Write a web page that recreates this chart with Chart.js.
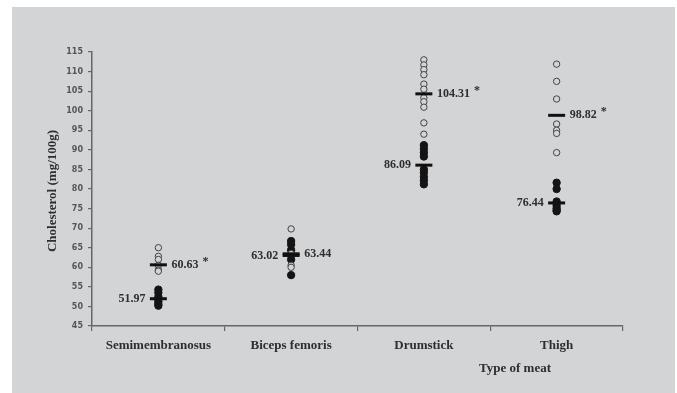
<!DOCTYPE html>
<html>
<head>
<meta charset="utf-8">
<script src="https://cdn.jsdelivr.net/npm/chart.js@4"></script>
<style>
    body { margin: 0; background: #ffffff; }
    #wrap { width: 677px; height: 393px; }
</style>
</head>
<body>
<div id="wrap"><canvas id="cholChart" width="677" height="393"></canvas></div>
<script>
// Data
const categories = ['Semimembranosus', 'Biceps femoris', 'Drumstick', 'Thigh'];
const openValues = [
    [65.0, 62.8, 62.0, 60.5, 59.3, 59.0],
    [69.8, 63.5, 60.5, 60.0],
    [113.0, 111.7, 110.5, 109.2, 106.8, 105.5, 103.3, 102.3, 100.9, 96.9, 94.0],
    [111.9, 107.5, 103.0, 96.6, 95.0, 94.2, 89.3]
];
const filledValues = [
    [54.3, 53.5, 52.5, 51.8, 51.2, 50.6, 50.2],
    [66.7, 65.8, 64.4, 62.0, 58.0],
    [91.2, 90.3, 89.3, 88.3, 85.0, 84.2, 83.1, 82.2, 81.2],
    [81.6, 80.0, 76.8, 75.8, 75.1, 74.6, 74.3]
];
const meanFilled = [51.97, 63.02, 86.09, 76.44];
const meanOpen = [60.63, 63.44, 104.31, 98.82];
const significant = [true, false, true, true];
const yMin = 45, yMax = 115, yStep = 5;

const BG = '#d3d4d6';
const AXIS = '#666666';
const TEXT = '#2e2e2e';

function toPoints(groups) {
    const pts = [];
    groups.forEach((vals, i) => vals.forEach(v => pts.push({ x: categories[i], y: v })));
    return pts;
}

// Background panel + custom texts
const decorPlugin = {
    id: 'decor',
    beforeDraw(chart) {
        const ctx = chart.ctx;
        ctx.save();
        ctx.fillStyle = BG;
        ctx.fillRect(12, 7, 663, 386);
        ctx.restore();
    },
    afterDatasetsDraw(chart) {
        const ctx = chart.ctx;
        const xs = chart.scales.x, ys = chart.scales.y;
        ctx.save();
        ctx.fillStyle = TEXT;
        ctx.font = 'bold 12px "Liberation Serif"';
        ctx.textBaseline = 'middle';
        categories.forEach((c, i) => {
            const cx = xs.getPixelForValue(i);
            // filled-group mean on the left
            ctx.textAlign = 'right';
            ctx.fillText(meanFilled[i].toFixed(2), cx - 13, ys.getPixelForValue(meanFilled[i]));
            // open-group mean on the right
            ctx.textAlign = 'left';
            const oy = ys.getPixelForValue(meanOpen[i]);
            const txt = meanOpen[i].toFixed(2);
            ctx.fillText(txt, cx + 13, oy);
            if (significant[i]) {
                const w = ctx.measureText(txt).width;
                ctx.fillText('*', cx + 13 + w + 4, oy - 3);
            }
        });

        // axis titles
        ctx.font = 'bold 13px "Liberation Serif"';
        ctx.textAlign = 'center';
        ctx.fillText('Type of meat', 515, 369);
        ctx.translate(53, 191);
        ctx.rotate(-Math.PI / 2);
        ctx.fillText('Cholesterol (mg/100g)', 0, 0);
        ctx.restore();
    }
};

new Chart(document.getElementById('cholChart'), {
    type: 'line',
    data: {
        labels: categories,
        datasets: [
            {
                label: 'Mean (filled)',
                data: meanFilled.map((v, i) => ({ x: categories[i], y: v })),
                showLine: false,
                pointStyle: 'line',
                pointRadius: 8.5,
                borderWidth: 3,
                borderColor: '#111111',
                order: 0
            },
            {
                label: 'Mean (open)',
                data: meanOpen.map((v, i) => ({ x: categories[i], y: v })),
                showLine: false,
                pointStyle: 'line',
                pointRadius: 8.5,
                borderWidth: 3,
                borderColor: '#111111',
                order: 0
            },
            {
                label: 'Filled',
                data: toPoints(filledValues),
                showLine: false,
                pointStyle: 'circle',
                pointRadius: 3.7,
                borderWidth: 1,
                borderColor: '#141414',
                backgroundColor: '#141414',
                order: 2
            },
            {
                label: 'Open',
                data: toPoints(openValues),
                showLine: false,
                pointStyle: 'circle',
                pointRadius: 3.2,
                borderWidth: 1,
                borderColor: '#444444',
                backgroundColor: BG,
                order: 1
            }
        ]
    },
    options: {
        responsive: false,
        animation: false,
        clip: false,
        layout: { padding: { top: 52, right: 54, left: 0, bottom: 0 } },
        plugins: {
            legend: { display: false },
            tooltip: { enabled: false }
        },
        scales: {
            x: {
                type: 'category',
                offset: true,
                grid: { offset: true, drawOnChartArea: false, tickLength: 5, color: AXIS, lineWidth: 1.2 },
                border: { color: AXIS, width: 1.5 },
                ticks: {
                    color: TEXT,
                    padding: 7,
                    maxRotation: 0,
                    font: { family: '"Liberation Serif"', size: 13, weight: 'bold' }
                },
                afterFit(scale) { scale.height = 67; }
            },
            y: {
                min: yMin,
                max: yMax,
                grid: { drawOnChartArea: false, tickLength: 4, color: AXIS, lineWidth: 1.2 },
                border: { color: AXIS, width: 1.5 },
                ticks: {
                    stepSize: yStep,
                    color: '#555555',
                    padding: 5,
                    font: { family: '"DejaVu Sans"', size: 8, weight: 'bold' }
                },
                afterFit(scale) { scale.width = 92; }
            }
        }
    },
    plugins: [decorPlugin]
});
</script>
</body>
</html>
